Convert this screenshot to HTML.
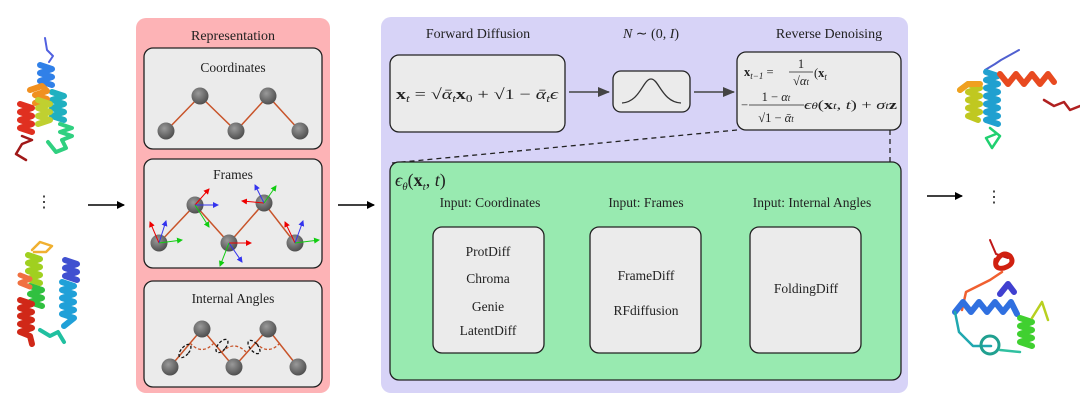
<!DOCTYPE html>
<html><head><meta charset="utf-8"><style>
html,body{margin:0;padding:0;background:#fff;width:1080px;height:413px;overflow:hidden}
svg text{font-family:"Liberation Serif",serif;fill:#222}
</style></head><body>
<svg width="1080" height="413" viewBox="0 0 1080 413" xmlns="http://www.w3.org/2000/svg">
<defs>
<radialGradient id="ball" cx="0.4" cy="0.35" r="0.7"><stop offset="0" stop-color="#9a9a9a"/><stop offset="1" stop-color="#4a4a4a"/></radialGradient>
<marker id="ah" markerWidth="8" markerHeight="8" refX="7" refY="4" orient="auto" markerUnits="userSpaceOnUse"><path d="M0,0 L8,4 L0,8 z" fill="#000"/></marker>
<marker id="ahg" markerWidth="12" markerHeight="10" refX="11" refY="5" orient="auto" markerUnits="userSpaceOnUse"><path d="M0,0 L12,5 L0,10 z" fill="#444"/></marker>
<marker id="mr" markerWidth="6" markerHeight="6" refX="5" refY="3" orient="auto" markerUnits="userSpaceOnUse"><path d="M0,0 L6,3 L0,6 z" fill="#e00"/></marker>
<marker id="mg" markerWidth="6" markerHeight="6" refX="5" refY="3" orient="auto" markerUnits="userSpaceOnUse"><path d="M0,0 L6,3 L0,6 z" fill="#1c1"/></marker>
<marker id="mb" markerWidth="6" markerHeight="6" refX="5" refY="3" orient="auto" markerUnits="userSpaceOnUse"><path d="M0,0 L6,3 L0,6 z" fill="#33e"/></marker>
</defs>

<!-- Left proteins -->
<g fill="none" stroke-linejoin="round" stroke-linecap="round">
<path d="M45 38 l2 12 l6 6 l-4 6" stroke="#5060e0" stroke-width="2"/>
<path d="M40 65 l12 4 l-12 4 l12 4 l-12 4 l12 4" stroke="#3080e8" stroke-width="6"/>
<path d="M52 92 l12 4 l-12 4 l12 4 l-12 4 l12 4 l-12 4 l12 4" stroke="#20b0c0" stroke-width="6"/>
<path d="M60 124 l12 4 l-12 4 l12 4 l-10 4 l4 8 l-10 4 l-8 -10" stroke="#30d080" stroke-width="4"/>
<path d="M30 90 l12 -4 l5 5 l-12 4 l12 4 l-12 4" stroke="#f09020" stroke-width="6"/>
<path d="M38 100 l12 4 l-12 4 l12 4 l-12 4 l12 4 l-12 4" stroke="#c0d030" stroke-width="6"/>
<path d="M20 104 l12 4 l-12 4 l12 4 l-12 4 l12 4 l-12 4 l12 4" stroke="#e03020" stroke-width="6"/>
<path d="M22 136 l10 4 l-10 4 l-6 10 l10 6" stroke="#a01818" stroke-width="2.5"/>

<path d="M32 250 l8 -8 l12 4 l-6 6 l-12 0" stroke="#f0b030" stroke-width="2.5"/>
<path d="M28 255 l12 4 l-12 4 l12 4 l-12 4 l12 4 l-12 4 l12 4" stroke="#a0d020" stroke-width="6"/>
<path d="M30 286 l12 4 l-12 4 l12 4 l-12 4 l12 4" stroke="#30c040" stroke-width="6"/>
<path d="M20 300 l12 4 l-12 4 l12 4 l-12 4 l12 4 l-12 4 l12 4 l-12 4 l10 4 l2 8" stroke="#d02818" stroke-width="6"/>
<path d="M20 275 l10 4 l-10 4 l10 4" stroke="#f07040" stroke-width="5"/>
<path d="M65 260 l12 4 l-12 4 l12 4 l-12 4 l12 4" stroke="#4050d0" stroke-width="6"/>
<path d="M62 282 l12 4 l-12 4 l12 4 l-12 4 l12 4 l-12 4 l12 4 l-12 4 l12 4 l-10 8" stroke="#20a0d8" stroke-width="6"/>
<path d="M40 330 l10 6 l8 -4 l6 10" stroke="#20c0a0" stroke-width="4"/>
</g>
<text x="44" y="207" font-size="16" text-anchor="middle">⋮</text>
<line x1="88" y1="205" x2="124" y2="205" stroke="#000" stroke-width="1.5" marker-end="url(#ah)"/>

<!-- Representation panel -->
<rect x="136" y="18" width="194" height="375" rx="10" fill="#fdb3b6"/>
<text x="233" y="40" font-size="14" text-anchor="middle">Representation</text>
<g fill="#ebebeb" stroke="#222" stroke-width="1.3">
<rect x="144" y="48" width="178" height="101" rx="9"/>
<rect x="144" y="159" width="178" height="109" rx="9"/>
<rect x="144" y="281" width="178" height="106" rx="9"/>
</g>
<text x="233" y="72" font-size="13.5" text-anchor="middle">Coordinates</text>
<polyline points="166,131 200,96 236,131 268,96 300,131" fill="none" stroke="#c8542a" stroke-width="1.5"/>
<g fill="url(#ball)"><circle cx="166" cy="131" r="8.5"/><circle cx="200" cy="96" r="8.5"/><circle cx="236" cy="131" r="8.5"/><circle cx="268" cy="96" r="8.5"/><circle cx="300" cy="131" r="8.5"/></g>

<text x="233" y="179" font-size="13.5" text-anchor="middle">Frames</text>
<polyline points="159,243 195,205 229,243 264,203 295,243" fill="none" stroke="#c8542a" stroke-width="1.5"/>
<g fill="url(#ball)"><circle cx="159" cy="243" r="8.5"/><circle cx="195" cy="205" r="8.5"/><circle cx="229" cy="243" r="8.5"/><circle cx="264" cy="203" r="8.5"/><circle cx="295" cy="243" r="8.5"/></g>
<g stroke-width="1">
<line x1="159" y1="243" x2="150" y2="222" stroke="#e00" marker-end="url(#mr)"/><line x1="159" y1="243" x2="166" y2="221" stroke="#33e" marker-end="url(#mb)"/><line x1="159" y1="243" x2="182" y2="240" stroke="#1c1" marker-end="url(#mg)"/>
<line x1="195" y1="205" x2="209" y2="189" stroke="#e00" marker-end="url(#mr)"/><line x1="195" y1="205" x2="218" y2="205" stroke="#33e" marker-end="url(#mb)"/><line x1="195" y1="205" x2="209" y2="227" stroke="#1c1" marker-end="url(#mg)"/>
<line x1="229" y1="243" x2="251" y2="243" stroke="#e00" marker-end="url(#mr)"/><line x1="229" y1="243" x2="242" y2="262" stroke="#33e" marker-end="url(#mb)"/><line x1="229" y1="243" x2="220" y2="266" stroke="#1c1" marker-end="url(#mg)"/>
<line x1="264" y1="203" x2="242" y2="201" stroke="#e00" marker-end="url(#mr)"/><line x1="264" y1="203" x2="255" y2="185" stroke="#33e" marker-end="url(#mb)"/><line x1="264" y1="203" x2="276" y2="186" stroke="#1c1" marker-end="url(#mg)"/>
<line x1="295" y1="243" x2="285" y2="222" stroke="#e00" marker-end="url(#mr)"/><line x1="295" y1="243" x2="303" y2="221" stroke="#33e" marker-end="url(#mb)"/><line x1="295" y1="243" x2="319" y2="240" stroke="#1c1" marker-end="url(#mg)"/>
</g>

<text x="233" y="303" font-size="13.5" text-anchor="middle">Internal Angles</text>
<polyline points="170,367 202,329 234,367 268,329 298,367" fill="none" stroke="#c8542a" stroke-width="1.5"/>
<g fill="none" stroke="#c8542a" stroke-width="1.3" stroke-dasharray="3,2">
<path d="M190 343 Q202 356 214 343"/><path d="M222 352 Q234 340 246 352"/><path d="M256 343 Q268 356 280 343"/>
</g>
<g fill="none" stroke="#111" stroke-width="1.3" stroke-dasharray="3,2">
<ellipse cx="185" cy="351" rx="4" ry="8" transform="rotate(40 185 351)"/>
<ellipse cx="222" cy="346" rx="4" ry="8" transform="rotate(40 222 346)"/>
<ellipse cx="254" cy="347" rx="4" ry="8" transform="rotate(-40 254 347)"/>
</g>
<g fill="url(#ball)"><circle cx="170" cy="367" r="8.5"/><circle cx="202" cy="329" r="8.5"/><circle cx="234" cy="367" r="8.5"/><circle cx="268" cy="329" r="8.5"/><circle cx="298" cy="367" r="8.5"/></g>

<line x1="338" y1="205" x2="374" y2="205" stroke="#000" stroke-width="1.5" marker-end="url(#ah)"/>

<!-- Purple panel -->
<rect x="381" y="17" width="527" height="376" rx="10" fill="#d7d3f7"/>
<text x="478" y="38" font-size="14" text-anchor="middle">Forward Diffusion</text>
<text x="651" y="38" font-size="14" text-anchor="middle" font-style="italic">N <tspan font-style="normal">∼ (0,</tspan> I<tspan font-style="normal">)</tspan></text>
<text x="829" y="38" font-size="14" text-anchor="middle">Reverse Denoising</text>
<g fill="#ebebeb" stroke="#222" stroke-width="1.3">
<rect x="390" y="55" width="175" height="77" rx="9"/>
<rect x="613" y="71" width="77" height="41" rx="8"/>
<rect x="737" y="52" width="164" height="78" rx="9"/>
</g>
<text x="396" y="99" font-size="15" textLength="162" lengthAdjust="spacingAndGlyphs"><tspan font-weight="bold">x</tspan><tspan font-size="10" font-style="italic" dy="3">t</tspan><tspan dy="-3"> = √</tspan><tspan font-style="italic">ᾱ</tspan><tspan font-size="10" font-style="italic" dy="3">t</tspan><tspan dy="-3" font-weight="bold">x</tspan><tspan font-size="10" dy="3">0</tspan><tspan dy="-3"> + √1 − </tspan><tspan font-style="italic">ᾱ</tspan><tspan font-size="10" font-style="italic" dy="3">t</tspan><tspan dy="-3" font-style="italic">ϵ</tspan></text>
<line x1="569" y1="92" x2="609" y2="92" stroke="#444" stroke-width="1.5" marker-end="url(#ahg)"/>
<path d="M622 103 C640 102 643 79 651 79 C659 79 662 102 681 103" fill="none" stroke="#333" stroke-width="1.3"/>
<line x1="694" y1="92" x2="734" y2="92" stroke="#444" stroke-width="1.5" marker-end="url(#ahg)"/>
<g font-size="12.5">
<text x="744" y="76"><tspan font-weight="bold">x</tspan><tspan font-size="9" font-style="italic" dy="3">t−1</tspan><tspan dy="-3"> =</tspan></text>
<text x="801" y="68" text-anchor="middle">1</text>
<line x1="789" y1="72" x2="813" y2="72" stroke="#222" stroke-width="0.8"/>
<text x="801" y="85" text-anchor="middle">√<tspan font-style="italic">α</tspan><tspan font-size="9" font-style="italic">t</tspan></text>
<text x="814" y="77">(<tspan font-weight="bold">x</tspan><tspan font-size="9" font-style="italic" dy="3">t</tspan></text>
<text x="741" y="109">−</text>
<text x="776" y="101" text-anchor="middle">1 − <tspan font-style="italic">α</tspan><tspan font-size="9" font-style="italic">t</tspan></text>
<line x1="749" y1="105" x2="804" y2="105" stroke="#222" stroke-width="0.8"/>
<text x="776" y="122" text-anchor="middle">√1 − <tspan font-style="italic">ᾱ</tspan><tspan font-size="9" font-style="italic">t</tspan></text>
<text x="804" y="109" textLength="93" lengthAdjust="spacingAndGlyphs"><tspan font-style="italic">ϵ</tspan><tspan font-size="9" font-style="italic">θ</tspan>(<tspan font-weight="bold">x</tspan><tspan font-size="9" font-style="italic">t</tspan>, <tspan font-style="italic">t</tspan>) + <tspan font-style="italic">σ</tspan><tspan font-size="9" font-style="italic">t</tspan><tspan font-weight="bold">z</tspan></text>
</g>
<line x1="737" y1="130" x2="392" y2="163" stroke="#222" stroke-width="1.3" stroke-dasharray="5,4"/>
<line x1="890" y1="130" x2="890" y2="163" stroke="#222" stroke-width="1.3" stroke-dasharray="5,4"/>

<!-- Green box -->
<rect x="390" y="162" width="511" height="218" rx="9" fill="#98eab0" stroke="#222" stroke-width="1.3"/>
<text x="395" y="186" font-size="18"><tspan font-style="italic">ϵ</tspan><tspan font-size="11" font-style="italic" dy="4">θ</tspan><tspan dy="-4">(</tspan><tspan font-weight="bold">x</tspan><tspan font-size="11" font-style="italic" dy="4">t</tspan><tspan dy="-4">, </tspan><tspan font-style="italic">t</tspan>)</text>
<text x="490" y="207" font-size="13.5" text-anchor="middle">Input: Coordinates</text>
<text x="646" y="207" font-size="13.5" text-anchor="middle">Input: Frames</text>
<text x="812" y="207" font-size="13.5" text-anchor="middle">Input: Internal Angles</text>
<g fill="#ebebeb" stroke="#222" stroke-width="1.3">
<rect x="433" y="227" width="111" height="126" rx="9"/>
<rect x="590" y="227" width="111" height="126" rx="9"/>
<rect x="750" y="227" width="111" height="126" rx="9"/>
</g>
<g font-size="13.5" text-anchor="middle">
<text x="488" y="256">ProtDiff</text><text x="488" y="283">Chroma</text><text x="488" y="311">Genie</text><text x="488" y="335">LatentDiff</text>
<text x="646" y="280">FrameDiff</text><text x="646" y="315">RFdiffusion</text>
<text x="806" y="293">FoldingDiff</text>
</g>

<line x1="927" y1="196" x2="962" y2="196" stroke="#000" stroke-width="1.5" marker-end="url(#ah)"/>
<text x="994" y="202" font-size="16" text-anchor="middle">⋮</text>

<!-- Right proteins -->
<g fill="none" stroke-linejoin="round" stroke-linecap="round">
<path d="M985 70 l10 -6 l6 -4 l18 -10" stroke="#5060d0" stroke-width="2"/>
<path d="M986 72 l12 4 l-12 4 l12 4 l-12 4 l12 4 l-12 4 l12 4 l-12 4 l12 4 l-12 4 l12 4 l-12 4 l12 4" stroke="#20a0d0" stroke-width="6"/>
<path d="M990 128 l10 8 l-8 12 l-6 -10 l10 -4" stroke="#20d070" stroke-width="2.5"/>
<path d="M960 90 l8 -6 l12 4 l-12 4 l12 4 l-12 4 l12 4 l-12 4 l12 4 l-12 4 l10 4" stroke="#c0c820" stroke-width="6"/>
<path d="M960 90 l8 -6 l12 0" stroke="#f0a020" stroke-width="6"/>
<path d="M1000 74 l8 10 l8 -10 l8 10 l8 -10 l8 10 l8 -10 l6 8" stroke="#e84a20" stroke-width="6"/>
<path d="M1044 100 l10 6 l10 -4 l6 8 l10 -4" stroke="#b02020" stroke-width="2.5"/>

<path d="M990 240 l6 14 l12 4" stroke="#c01818" stroke-width="2"/>
<path d="M996 262 q6 -12 14 -6 q6 8 -6 12 q-10 2 -8 -8" stroke="#d02010" stroke-width="5"/>
<path d="M962 310 l4 -18 l24 -12 l12 -8" stroke="#f06030" stroke-width="2.5"/>
<path d="M955 312 l8 -10 l8 10 l8 -10 l8 10 l8 -10 l8 10 l8 -10 l6 12" stroke="#3070e0" stroke-width="6"/>
<path d="M1000 294 l8 -10 l6 8" stroke="#4040d0" stroke-width="6"/>
<path d="M955 312 l4 20 l14 14 l18 0" stroke="#20a8b0" stroke-width="2.5"/>
<circle cx="990" cy="345" r="9" stroke="#20a090" stroke-width="3"/>
<path d="M1000 350 l20 2" stroke="#30c0a0" stroke-width="2.5"/>
<path d="M1020 318 l12 4 l-12 4 l12 4 l-12 4 l12 4 l-12 4 l12 4" stroke="#40d030" stroke-width="6"/>
<path d="M1032 318 l10 -16 l6 18" stroke="#b8d020" stroke-width="2.5"/>
</g>
</svg>
</body></html>
